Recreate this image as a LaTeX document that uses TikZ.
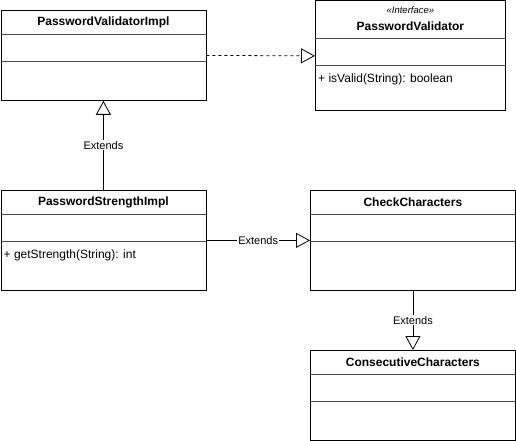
\documentclass[tikz,border=0pt]{standalone}
\usepackage{fontspec}
\setmainfont{Liberation Sans}
\usetikzlibrary{arrows.meta,positioning}

\begin{document}
\begin{tikzpicture}[x=1pt, y=-1pt, font=\fontsize{12}{14}\selectfont,
  classbox/.style={draw, line width=0.8pt, anchor=north west, minimum width=205pt, inner sep=0pt},
  classname/.style={font=\fontsize{12}{14}\selectfont\bfseries, inner sep=0pt},
  member/.style={anchor=west, inner sep=0pt},
  sepline/.style={draw=black!70, line width=0.6pt},
  extends/.style={-{Triangle[open, length=14pt, width=15pt]}, line width=0.8pt},
  realizes/.style={extends, dashed},
  relname/.style={fill=white, inner sep=1pt, font=\fontsize{11}{13}\selectfont}]
\useasboundingbox (0,0) rectangle (516,441);
\node[classbox, minimum height=90pt] (impl) at (0.5,10) {};
\node[classbox, minimum width=190pt, minimum height=110pt] (validator) at (315,0.5) {};
\node[classbox, minimum height=100pt] (strength) at (0.5,190) {};
\node[classbox, minimum height=100pt] (check) at (310,190) {};
\node[classbox, minimum height=90pt] (consec) at (310,350) {};

\node[classname] (implname) at ([yshift=-12pt]impl.north) {PasswordValidatorImpl};
\node[inner sep=0pt, font=\fontsize{9.5}{11}\selectfont\itshape] (stereo) at ([yshift=-10pt]validator.north) {<<Interface>>};
\node[classname] (validatorname) at ([yshift=-26pt]validator.north) {PasswordValidator};
\node[classname] (strengthname) at ([yshift=-12pt]strength.north) {PasswordStrengthImpl};
\node[classname] (checkname) at ([yshift=-12pt]check.north) {CheckCharacters};
\node[classname] (consecname) at ([yshift=-12pt]consec.north) {ConsecutiveCharacters};

\draw[sepline] ([yshift=-24pt]impl.north west) -- ([yshift=-24pt]impl.north east);
\draw[sepline] ([yshift=-51pt]impl.north west) -- ([yshift=-51pt]impl.north east);
\draw[sepline] ([yshift=-38pt]validator.north west) -- ([yshift=-38pt]validator.north east);
\draw[sepline] ([yshift=-65pt]validator.north west) -- ([yshift=-65pt]validator.north east);
\draw[sepline] ([yshift=-24pt]strength.north west) -- ([yshift=-24pt]strength.north east);
\draw[sepline] ([yshift=-51pt]strength.north west) -- ([yshift=-51pt]strength.north east);
\draw[sepline] ([yshift=-24pt]check.north west) -- ([yshift=-24pt]check.north east);
\draw[sepline] ([yshift=-51pt]check.north west) -- ([yshift=-51pt]check.north east);
\draw[sepline] ([yshift=-24pt]consec.north west) -- ([yshift=-24pt]consec.north east);
\draw[sepline] ([yshift=-51pt]consec.north west) -- ([yshift=-51pt]consec.north east);

\node[member] (isvalid) at ([xshift=3pt, yshift=-79pt]validator.north west) {+ isValid(String): boolean};
\node[member] (getstrength) at ([xshift=3pt, yshift=-65pt]strength.north west) {+ getStrength(String): int};

\draw[realizes] (impl.east) -- (validator.west);
\draw[extends] (strength.north) -- node[relname] {Extends} (impl.south);
\draw[extends] (strength.east) -- node[relname] {Extends} (check.west);
\draw[extends] (check.south) -- node[relname] {Extends} (consec.north);
\end{tikzpicture}
\end{document}
